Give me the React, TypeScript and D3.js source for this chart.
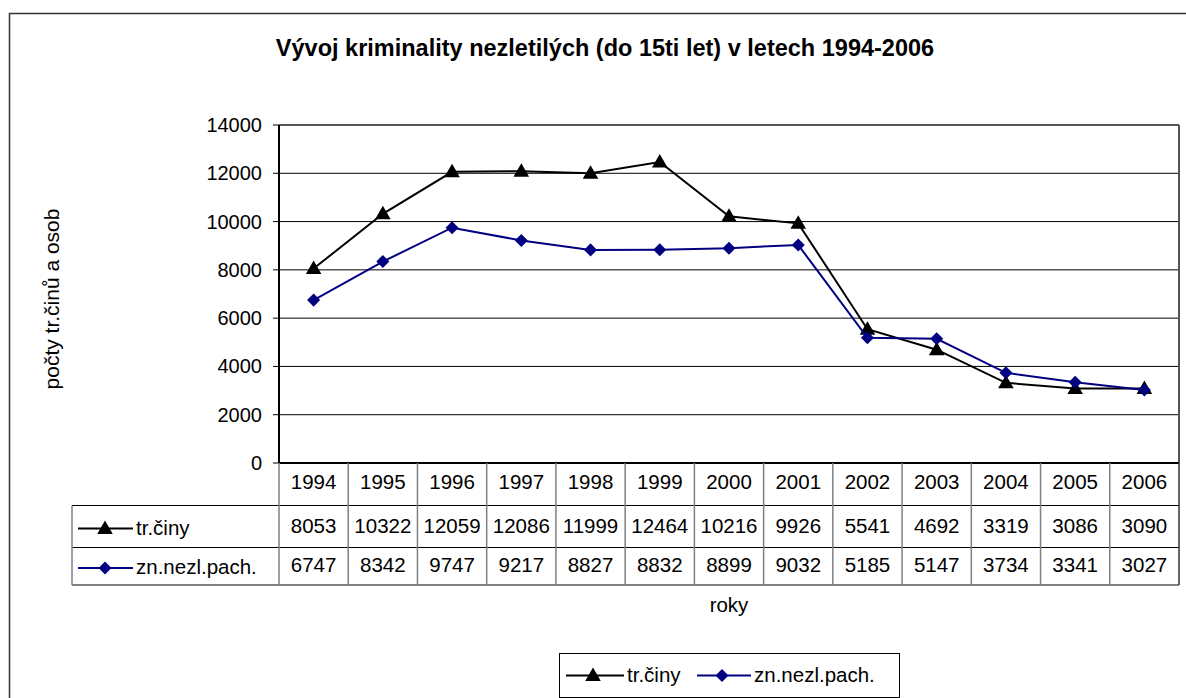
import React from "react";
import * as d3 from "d3";

const years = ["1994","1995","1996","1997","1998","1999","2000","2001","2002","2003","2004","2005","2006"];
const trCiny = [8053,10322,12059,12086,11999,12464,10216,9926,5541,4692,3319,3086,3090];
const znNezl = [6747,8342,9747,9217,8827,8832,8899,9032,5185,5147,3734,3341,3027];
const yTicks = [0,2000,4000,6000,8000,10000,12000,14000];
const seriesNames = ["tr.činy","zn.nezl.pach."];
const title = "Vývoj kriminality nezletilých (do 15ti let) v letech 1994-2006";
const yTitle = "počty tr.činů a osob";
const xTitle = "roky";

const FONT = "'Liberation Sans', Arial, sans-serif";

export default function App() {
  const left = 279, right = 1179, top = 125, bottom = 463;
  const x = d3.scaleBand<string>().domain(years).range([left, right]);
  const y = d3.scaleLinear().domain([0, 14000]).range([bottom, top]);
  const cx = (d: string) => (x(d) as number) + x.bandwidth() / 2;

  const line = d3.line<number>().x((_, i) => cx(years[i])).y((v) => y(v));
  const tri = d3.symbol().type(d3.symbolTriangle).size(105)() as string;
  const dia = d3.symbol().type(d3.symbolSquare).size(85)() as string;

  const rowY = [bottom, 505.5, 547.5, 585];
  const tableLeft = 72;

  const marker = (k: number, px: number, py: number, key?: any) =>
    k === 0 ? (
      <path key={key} d={tri} transform={`translate(${px},${py + 1})`} fill="#000" />
    ) : (
      <path key={key} d={dia} transform={`translate(${px},${py}) rotate(45)`} fill="#000080" />
    );

  const colors = ["#000", "#000080"];
  const data = [trCiny, znNezl];

  return (
    <svg width={1186} height={698} style={{ position: "absolute", left: 0, top: 0, background: "#fff" }} fontFamily={FONT}>
      <rect x={0} y={0} width={1186} height={698} fill="#fff" />
      {/* outer chart border */}
      <rect x={9.5} y={13.5} width={1220} height={720} fill="none" stroke="#333" strokeWidth={1.5} />

      {/* title */}
      <text x={605} y={56} textAnchor="middle" fontSize={23.5} fontWeight="bold">{title}</text>

      {/* gridlines */}
      {yTicks.map((t) => (
        <line key={"g" + t} x1={left} x2={right} y1={y(t)} y2={y(t)} stroke="#000" strokeWidth={1} />
      ))}
      {/* plot border top/right */}
      <line x1={left} x2={right} y1={top} y2={top} stroke="#555" strokeWidth={2} />
      <line x1={right} x2={right} y1={top} y2={bottom} stroke="#555" strokeWidth={2} />
      {/* y axis */}
      <line x1={left} x2={left} y1={top} y2={bottom} stroke="#000" strokeWidth={2} />
      {yTicks.map((t) => (
        <g key={"t" + t}>
          <line x1={left - 6} x2={left} y1={y(t)} y2={y(t)} stroke="#000" strokeWidth={1} />
          <text x={262} y={y(t) + 7} textAnchor="end" fontSize={20}>{t}</text>
        </g>
      ))}
      {/* x axis line */}
      <line x1={left} x2={right} y1={bottom} y2={bottom} stroke="#000" strokeWidth={2} />

      {/* y title */}
      <text transform={`translate(59,299) rotate(-90)`} textAnchor="middle" fontSize={21}>{yTitle}</text>

      {/* series */}
      {data.map((s, k) => (
        <g key={"s" + k}>
          <path d={line(s) as string} fill="none" stroke={colors[k]} strokeWidth={2} />
          {s.map((v, i) => marker(k, cx(years[i]), y(v), i))}
        </g>
      ))}

      {/* data table */}
      {rowY.slice(1).map((ry, i) => (
        <line key={"h" + i} x1={tableLeft} x2={right} y1={ry} y2={ry} stroke="#000" strokeWidth={1} />
      ))}
      <line x1={tableLeft} x2={tableLeft} y1={rowY[1]} y2={rowY[3]} stroke="#808080" strokeWidth={1.5} />
      {years.map((yr, i) => (
        <line key={"v" + i} x1={x(yr) as number} x2={x(yr) as number} y1={bottom} y2={rowY[3]} stroke="#808080" strokeWidth={1.5} />
      ))}
      <line x1={right} x2={right} y1={bottom} y2={rowY[3]} stroke="#333" strokeWidth={1.5} />
      {years.map((yr) => (
        <text key={"yr" + yr} x={cx(yr)} y={489} textAnchor="middle" fontSize={20.5}>{yr}</text>
      ))}
      {data.map((s, k) =>
        s.map((v, i) => (
          <text key={"c" + k + i} x={cx(years[i])} y={k === 0 ? 533 : 572} textAnchor="middle" fontSize={20.5}>{v}</text>
        ))
      )}
      {seriesNames.map((n, k) => {
        const ly = k === 0 ? 528.5 : 568;
        return (
          <g key={"tl" + k}>
            <line x1={78} x2={133} y1={ly} y2={ly} stroke={colors[k]} strokeWidth={2} />
            {marker(k, 105, ly)}
            <text x={136} y={k === 0 ? 535 : 574} fontSize={20.5}>{n}</text>
          </g>
        );
      })}

      {/* x title */}
      <text x={729} y={612} textAnchor="middle" fontSize={20.5}>{xTitle}</text>

      {/* legend */}
      <rect x={559.5} y={653.5} width={340} height={44} fill="#fff" stroke="#000" strokeWidth={1} />
      <line x1={566} x2={624} y1={675.5} y2={675.5} stroke={colors[0]} strokeWidth={2} />
      {marker(0, 593, 675.5)}
      <text x={627} y={682} fontSize={20.5}>{seriesNames[0]}</text>
      <line x1={697} x2={751} y1={675.5} y2={675.5} stroke={colors[1]} strokeWidth={2} />
      {marker(1, 722, 675.5)}
      <text x={754} y={682} fontSize={20.5}>{seriesNames[1]}</text>
    </svg>
  );
}
